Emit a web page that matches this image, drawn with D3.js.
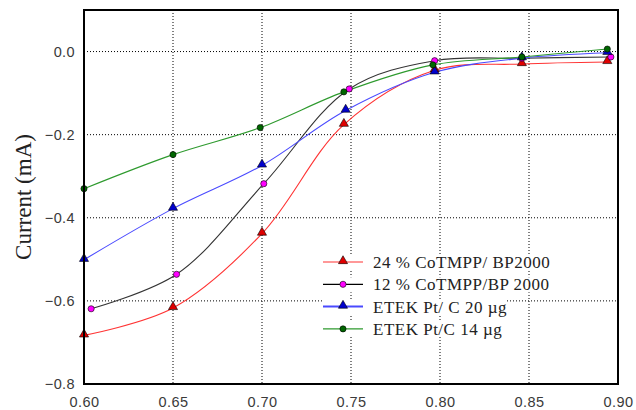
<!DOCTYPE html>
<html>
<head>
<meta charset="utf-8">
<script src="https://cdn.jsdelivr.net/npm/d3@7"></script>
<style>
  body { margin: 0; background: #fff; }
  svg { display: block; }
  .tick text { font-family: "Liberation Sans", Arial, sans-serif; font-size: 14.5px; fill: #3a3a3a; letter-spacing: 0.4px; }
</style>
</head>
<body>
<svg id="chart" width="636" height="410"></svg>
<script>
// series names (legend)
var seriesNames = ["24 % CoTMPP/ BP2000", "12 % CoTMPP/BP 2000", "ETEK Pt/ C 20 \u00b5g", "ETEK Pt/C 14 \u00b5g"];

// potential values (x) for each series
var xRed     = [0.600, 0.650, 0.700, 0.746, 0.797, 0.846, 0.894];
var xMagenta = [0.604, 0.652, 0.701, 0.749, 0.797, 0.846, 0.896];
var xBlue    = [0.600, 0.650, 0.700, 0.747, 0.797, 0.846, 0.894];
var xGreen   = [0.600, 0.650, 0.699, 0.746, 0.796, 0.846, 0.894];

// current values (mA)
var yRed     = [-0.683, -0.617, -0.438, -0.176, -0.045, -0.030, -0.025];
var yMagenta = [-0.619, -0.536, -0.318, -0.090, -0.022, -0.016, -0.013];
var yBlue    = [-0.501, -0.378, -0.274, -0.142, -0.050, -0.016, -0.003];
var yGreen   = [-0.330, -0.248, -0.183, -0.097, -0.032, -0.013, 0.006];

var xTicks = [0.60, 0.65, 0.70, 0.75, 0.80, 0.85, 0.90];
var yTicks = [0.0, -0.2, -0.4, -0.6, -0.8];

var series = [
  {name: seriesNames[0], xs: xRed, ys: yRed, line: "#ff3333", fill: "#e00000", shape: "tri"},
  {name: seriesNames[1], xs: xMagenta, ys: yMagenta, line: "#333333", fill: "#ff00ff", shape: "circ"},
  {name: seriesNames[2], xs: xBlue, ys: yBlue, line: "#4a4aff", fill: "#0000cc", shape: "tri"},
  {name: seriesNames[3], xs: xGreen, ys: yGreen, line: "#2e9a2e", fill: "#006600", shape: "circ"}
];

var margin = {top: 10, right: 18, bottom: 25, left: 84};
var svg = d3.select("#chart");
var width = 636 - margin.left - margin.right;
var height = 384 - margin.top;

var x = d3.scaleLinear().domain([0.60, 0.90]).range([0, width]);
var y = d3.scaleLinear().domain([-0.8, 0.1]).range([height, 0]);

var g = svg.append("g").attr("transform", "translate(" + margin.left + "," + margin.top + ")");

// dotted grid
g.append("g").selectAll("line").data(xTicks.slice(1, -1)).enter().append("line")
  .attr("x1", d => x(d)).attr("x2", d => x(d)).attr("y1", 0).attr("y2", height)
  .attr("stroke", "#000").attr("stroke-width", 1).attr("stroke-dasharray", "1,2");
g.append("g").selectAll("line").data(yTicks.slice(0, -1)).enter().append("line")
  .attr("x1", 0).attr("x2", width).attr("y1", d => y(d)).attr("y2", d => y(d))
  .attr("stroke", "#000").attr("stroke-width", 1).attr("stroke-dasharray", "1,2");

// axes (labels only)
var xAxis = d3.axisBottom(x).tickValues(xTicks).tickFormat(d3.format(".2f")).tickSize(0).tickPadding(13);
g.append("g").attr("transform", "translate(0," + height + ")").call(xAxis)
  .call(a => a.select(".domain").remove());
var yAxis = d3.axisLeft(y).tickValues(yTicks).tickFormat(d3.format(".1f")).tickSize(0).tickPadding(9);
g.append("g").call(yAxis).call(a => a.select(".domain").remove());

// curves
var lineGen = d3.line().x(d => x(d[0])).y(d => y(d[1])).curve(d3.curveCatmullRom.alpha(0.5));
var tri = d3.symbol().type(d3.symbolTriangle).size(36);
var circ = d3.symbol().type(d3.symbolCircle).size(30);

series.forEach(function(s) {
  var pts = s.xs.map((v, i) => [v, s.ys[i]]);
  g.append("path").attr("d", lineGen(pts))
    .attr("fill", "none").attr("stroke", s.line).attr("stroke-width", 1.1);
});
series.forEach(function(s) {
  var pts = s.xs.map((v, i) => [v, s.ys[i]]);
  g.append("g").selectAll("path").data(pts).enter().append("path")
    .attr("d", s.shape == "tri" ? tri : circ)
    .attr("transform", d => "translate(" + x(d[0]) + "," + (y(d[1]) - (s.shape == "tri" ? 1 : 0)) + ")")
    .attr("fill", s.fill).attr("stroke", "#000").attr("stroke-width", 0.6);
});

// frame
g.append("rect").attr("width", width).attr("height", height)
  .attr("fill", "none").attr("stroke", "#000").attr("stroke-width", 2);

// legend
var legend = g.append("g").attr("transform", "translate(" + (323 - margin.left) + "," + (262 - margin.top) + ")");
series.forEach(function(s, i) {
  var row = legend.append("g").attr("transform", "translate(0," + (i * 22.3) + ")");
  var bg = row.append("rect").attr("fill", "#fff");
  row.append("line").attr("x1", 0).attr("x2", 40).attr("y1", 0).attr("y2", 0)
    .attr("stroke", i == 1 ? "#000" : s.line).attr("stroke-width", i == 2 ? 2 : 1.2);
  row.append("path").attr("d", s.shape == "tri" ? tri : circ)
    .attr("transform", "translate(20," + (s.shape == "tri" ? -1 : 0) + ")")
    .attr("fill", s.fill).attr("stroke", "#000").attr("stroke-width", 0.6);
  var t = row.append("text").attr("x", 50).attr("y", 6)
    .attr("font-family", "'Liberation Serif', 'Times New Roman', serif").attr("font-size", 17)
    .attr("letter-spacing", "0.5px")
    .attr("fill", "#222").text(s.name);
  var bb = t.node().getBBox();
  bg.attr("x", 0).attr("y", bb.y + 2).attr("width", bb.x + bb.width).attr("height", bb.height - 4);
});

// y title
svg.append("text")
  .attr("transform", "translate(31,197) rotate(-90)")
  .attr("text-anchor", "middle")
  .attr("font-family", "'Liberation Serif', 'Times New Roman', serif").attr("font-size", 23)
  .attr("fill", "#222").text("Current (mA)");
</script>
</body>
</html>
